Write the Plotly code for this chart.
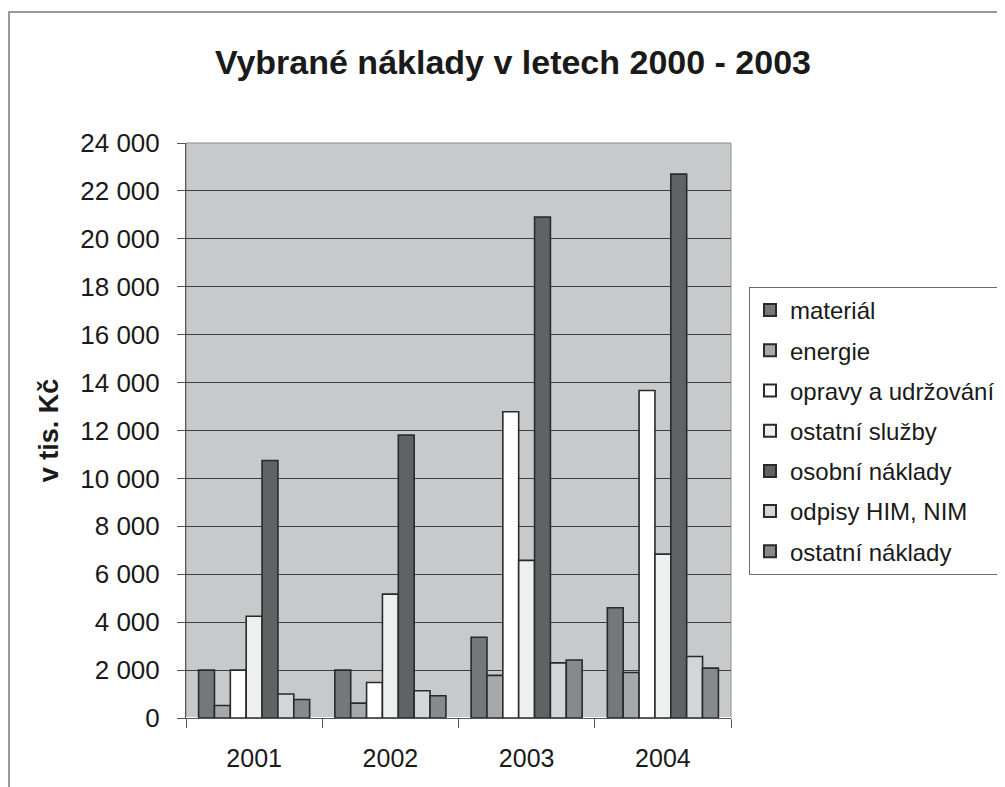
import plotly.graph_objects as go

years = ["2001", "2002", "2003", "2004"]
series_names = ["materiál", "energie", "opravy a udržování", "ostatní služby",
                "osobní náklady", "odpisy HIM, NIM", "ostatní náklady"]
material = [2000, 2000, 3370, 4600]
energie = [520, 620, 1780, 1900]
opravy = [2000, 1480, 12780, 13670]
sluzby = [4250, 5170, 6580, 6840]
osobni = [10750, 11810, 20910, 22700]
odpisy = [1000, 1140, 2300, 2570]
ostatni = [770, 930, 2420, 2080]
values = [material, energie, opravy, sluzby, osobni, odpisy, ostatni]
colors = ["#76777b", "#a7a8aa", "#ffffff", "#eeefef", "#616264", "#d4d5d7", "#88898b"]

FONT = "Liberation Sans, Arial, sans-serif"

fig = go.Figure()
for name, vals, col in zip(series_names, values, colors):
    fig.add_trace(go.Bar(
        x=years, y=vals, name=name, legendgroup=name,
        marker=dict(color=col, line=dict(color="#2a2a2c", width=1.6)),
    ))

OFF = 8  # page offset of the figure
W, H = 1005, 787
L, T = 186 - OFF, 143 - OFF
pw, ph = 545, 575
R, B = W - L - pw, H - T - ph

fig.update_layout(
    width=W, height=H,
    margin=dict(l=L, r=R, t=T, b=B, autoexpand=False),
    paper_bgcolor="white",
    plot_bgcolor="#c8c9cb",
    separators=", ",
    barmode="group",
    bargap=0.185,
    bargroupgap=0,
    font=dict(family=FONT, color="#1a1a1a", size=25),
    title=dict(text="<b>Vybrané náklady v letech 2000 - 2003</b>",
               x=(513 - OFF) / W, xref="container", xanchor="center",
               y=1 - (62 - OFF) / H, yref="container", yanchor="middle",
               font=dict(family=FONT, size=34, color="#1a1a1a")),
    legend=dict(x=(749 - 186) / pw, xanchor="left", y=(718 - 287) / ph, yanchor="top",
                bordercolor="#6a6a6a", borderwidth=1, bgcolor="white",
                font=dict(family=FONT, size=24, color="#1a1a1a"),
                tracegroupgap=6, itemsizing="constant"),
    showlegend=True,
)

fig.update_xaxes(
    type="category", tickson="boundaries", ticks="outside", ticklen=9, tickwidth=1,
    tickcolor="#555", showline=True, linecolor="#555", linewidth=1,
    tickfont=dict(family=FONT, size=25, color="#1a1a1a"),
    ticklabelstandoff=18, automargin=False,
)
fig.update_yaxes(
    range=[0, 24000], tickvals=list(range(0, 24001, 2000)), tickformat=",d",
    ticks="outside", ticklen=8, tickwidth=1, tickcolor="#555",
    showline=True, linecolor="#555", linewidth=1,
    showgrid=True, gridcolor="#3e3e40", gridwidth=1,
    tickfont=dict(family=FONT, size=26, color="#1a1a1a"),
    ticklabelstandoff=12, automargin=False,
    title=dict(text="<b>v tis. Kč</b>", font=dict(family=FONT, size=27, color="#1a1a1a"),
               standoff=13),
)

# plot-area outline (top and right edges lighter)
fig.add_shape(type="rect", xref="paper", yref="paper", x0=0, y0=0, x1=1, y1=1,
              line=dict(color="#8c8c8e", width=1), layer="below")
# outer chart border (left edge at the figure's left edge)
fig.add_shape(type="rect", xref="paper", yref="paper",
              x0=(1 - L) / pw, x1=(W + 10 - L) / pw,
              y0=-120 / ph, y1=(718 - 12) / ph,
              line=dict(color="#7a7a7a", width=1.5))

fig.write_html("out.html")
